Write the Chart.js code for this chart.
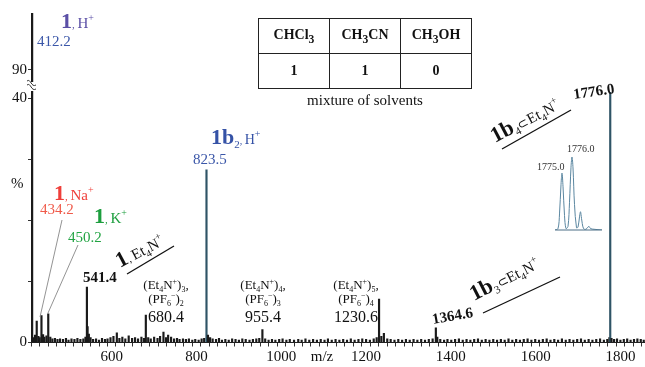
<!DOCTYPE html>
<html>
<head>
<meta charset="utf-8">
<script src="https://cdn.jsdelivr.net/npm/chart.js@4.4.0/dist/chart.umd.min.js"></script>
<style>
  body { margin: 0; background: #fff; }
  #wrap { position: relative; width: 645px; height: 367px; }
  #ms { position: absolute; left: 0; top: 0; }
  #inset { position: absolute; left: 555px; top: 150px; }
  #solv { position: absolute; left: 258px; top: 18px; border-collapse: collapse;
          font: bold 14px "Liberation Serif", "Times New Roman", serif; color: #111; }
  #solv td { border: 1.5px solid #222; width: 70px; height: 34px; text-align: center; padding: 0; }
  #cap { position: absolute; left: 258px; top: 92px; width: 214px; text-align: center;
         font: 15px "Liberation Serif", "Times New Roman", serif; color: #111; }
</style>
</head>
<body>
<div id="wrap">
  <canvas id="ms" width="645" height="367"></canvas>
  <canvas id="inset" width="47" height="81"></canvas>
  <table id="solv"></table>
  <div id="cap">mixture of solvents</div>
</div>
<script>
// labelled peaks (m/z, relative intensity %)
const peakMz  = [412.2, 423.0, 434.2, 450.2, 541.4, 543.0, 612.0, 680.4, 722.0, 733.0, 823.5, 955.4, 1230.6, 1242.0, 1364.6, 1776.0];
const peakInt = [100,   3.5,   4.4,   4.7,   9.1,   2.6,   1.6,   4.5,   1.7,   1.2,   28.3,  2.1,   7.1,    1.5,    2.4,    41.0];

// baseline noise
const noiseMz = [416, 419, 427, 430, 438, 441, 446, 455, 460, 466, 472, 478, 485, 492, 498, 505, 512, 519, 526, 533, 538, 546, 550,
  556, 563, 570, 577, 584, 590, 597, 604, 618, 625, 632, 640, 648, 655, 662, 670, 676, 686, 692, 700, 708, 714, 728, 740, 747,
  754, 760, 768, 775, 782, 790, 797, 805, 812, 818, 827, 832, 838, 846, 853, 860, 868, 876, 884, 892, 900, 908, 916, 925, 933,
  941, 948, 962, 970, 978, 986, 995, 1003, 1012, 1020, 1030, 1040, 1048, 1057, 1066, 1075, 1084, 1093, 1102, 1110, 1119, 1128,
  1137, 1146, 1155, 1164, 1173, 1182, 1191, 1200, 1209, 1218, 1225, 1236, 1250, 1258, 1267, 1276, 1285, 1294, 1303, 1312, 1321,
  1330, 1339, 1348, 1357, 1368, 1375, 1384, 1392, 1401, 1410, 1419, 1428, 1437, 1446, 1455, 1464, 1473, 1482, 1491, 1500, 1509,
  1518, 1527, 1536, 1545, 1554, 1563, 1572, 1581, 1590, 1599, 1608, 1617, 1626, 1635, 1644, 1653, 1662, 1671, 1680, 1689, 1698,
  1707, 1716, 1725, 1734, 1743, 1752, 1761, 1769, 1774, 1779, 1785, 1792, 1800, 1808, 1816, 1824, 1832, 1840, 1848, 1855];
const noiseInt = [0.8, 1.2, 1.0, 0.8, 1.3, 0.9, 1.1, 0.9, 0.6, 0.7, 0.5, 0.6, 0.5, 0.7, 0.4, 0.6, 0.5, 0.7, 0.5, 0.6, 0.9, 1.4, 0.8,
  0.5, 0.6, 0.4, 0.7, 0.5, 0.6, 0.8, 1.0, 0.7, 0.9, 0.6, 1.1, 0.7, 0.8, 0.6, 0.9, 0.7, 0.8, 0.6, 0.9, 0.7, 1.0, 0.8, 0.9, 0.6,
  0.7, 0.5, 0.6, 0.5, 0.6, 0.4, 0.5, 0.4, 0.6, 0.7, 1.2, 0.8, 0.6, 0.5, 0.7, 0.4, 0.5, 0.4, 0.6, 0.5, 0.4, 0.6, 0.5, 0.4, 0.5,
  0.6, 0.7, 0.6, 0.4, 0.5, 0.4, 0.5, 0.6, 0.4, 0.5, 0.4, 0.5, 0.4, 0.6, 0.4, 0.5, 0.4, 0.5, 0.4, 0.6, 0.4, 0.5,
  0.4, 0.5, 0.4, 0.6, 0.4, 0.5, 0.6, 0.5, 0.4, 0.6, 0.8, 1.0, 0.6, 0.5, 0.4, 0.5, 0.4, 0.5, 0.4, 0.5, 0.4,
  0.5, 0.4, 0.5, 0.6, 0.9, 0.5, 0.4, 0.5, 0.4, 0.5, 0.6, 0.4, 0.5, 0.4, 0.5, 0.6, 0.4, 0.5, 0.4, 0.5, 0.4,
  0.5, 0.4, 0.6, 0.4, 0.5, 0.4, 0.5, 0.6, 0.4, 0.5, 0.4, 0.5, 0.6, 0.4, 0.5, 0.4, 0.6, 0.4, 0.5, 0.4, 0.5,
  0.6, 0.4, 0.5, 0.4, 0.5, 0.6, 0.4, 0.5, 0.8, 0.7, 0.5, 0.6, 0.4, 0.5, 0.6, 0.4, 0.5, 0.6, 0.5, 0.4];

// axis
const xTickStep = 20;
const xLabelStep = 200;
const yTickVals = [0, 10, 20, 30, 40, 90];
const yTickLabels = ['0', '', '', '', '40', '90'];

// isotope pattern inset around 1776
const isoMz  = [1774.3, 1774.6, 1774.75, 1774.9, 1775.0, 1775.1, 1775.25, 1775.4, 1775.6, 1775.75, 1775.9, 1776.0, 1776.1,
                1776.25, 1776.45, 1776.6, 1776.75, 1776.85, 1776.95, 1777.15, 1777.4, 1777.6, 1777.7, 1777.85, 1778.2, 1779.0];
const isoInt = [0, 0.02, 0.22, 0.62, 0.78, 0.6, 0.2, 0.02, 0.05, 0.38, 0.86, 1.0, 0.85,
                0.35, 0.03, 0.04, 0.18, 0.25, 0.16, 0.02, 0.01, 0.04, 0.05, 0.02, 0.01, 0];

// solvent table
const solvents = ['CHCl<sub>3</sub>', 'CH<sub>3</sub>CN', 'CH<sub>3</sub>OH'];
const solventRatio = [1, 1, 0];

const SERIF = '"Liberation Serif", "Times New Roman", serif';

// broken y axis: 0-45 linear, 90-100 squeezed on top
function yMap(v) {
    return v < 90 ? v : 44.7 + (v - 90) * 0.93;
}

// build table
(function() {
    const t = document.getElementById('solv');
    t.innerHTML = '<tr>' + solvents.map(s => `<td>${s}</td>`).join('') + '</tr>' +
                  '<tr>' + solventRatio.map(r => `<td>${r}</td>`).join('') + '</tr>';
})();

/**
 * Draw a run of text pieces (bold, sub/superscripts) starting at x,y
 * parts: [text, size, bold, dy]
 */
function rich(ctx, x, y, parts, color, angle, align) {
    ctx.save();
    ctx.translate(x, y);
    ctx.rotate((angle || 0) * Math.PI / 180);
    ctx.fillStyle = color;
    ctx.textBaseline = 'alphabetic';
    ctx.textAlign = 'left';
    let total = 0;
    const widths = parts.map(p => {
        ctx.font = (p[2] ? 'bold ' : '') + p[1] + 'px ' + SERIF;
        const w = ctx.measureText(p[0]).width;
        total += w;
        return w;
    });
    let cx = align === 'center' ? -total / 2 : 0;
    parts.forEach((p, i) => {
        ctx.font = (p[2] ? 'bold ' : '') + p[1] + 'px ' + SERIF;
        ctx.fillText(p[0], cx, p[3] || 0);
        cx += widths[i];
    });
    ctx.restore();
}

function line(ctx, x1, y1, x2, y2, color, w) {
    ctx.save();
    ctx.strokeStyle = color;
    ctx.lineWidth = w;
    ctx.beginPath();
    ctx.moveTo(x1, y1);
    ctx.lineTo(x2, y2);
    ctx.stroke();
    ctx.restore();
}

// "1bn⊂Et4N+" style label pieces
function hostGuest(n) {
    return [['1b', 22, 1, 0], [n, 11, 0, 4], ['\u2282', 13, 0, 0], ['Et', 15, 0, 0], ['4', 10, 0, 4], ['N', 15, 0, 0], ['+', 10, 0, -7]];
}

const notesPlugin = {
    id: 'notes',
    afterDraw(chart) {
        const ctx = chart.ctx;
        const K = '#111';

        // axis break
        ctx.save();
        ctx.fillStyle = '#fff';
        ctx.fillRect(29, 82, 5, 9);
        ctx.strokeStyle = '#333';
        ctx.lineWidth = 1;
        [0, 4].forEach(d => {
            ctx.beginPath();
            ctx.moveTo(27, 81 + d);
            ctx.bezierCurveTo(31, 78 + d, 31, 88 + d, 36, 85 + d);
            ctx.stroke();
        });
        ctx.restore();

        // y label and x title
        rich(ctx, 11, 188, [['%', 15, 0, 0]], K);
        rich(ctx, 322, 361, [['m/z', 15, 0, 0]], K, 0, 'center');

        // 1, H+
        rich(ctx, 61, 28, [['1', 22, 1, 0], [', ', 11, 0, 0], ['H', 15, 0, 0], ['+', 10, 0, -7]], '#5b4fa6');
        rich(ctx, 37, 46, [['412.2', 15, 0, 0]], '#3a56a8');

        // 1, Na+
        rich(ctx, 54, 200, [['1', 22, 1, 0], [', ', 11, 0, 0], ['Na', 15, 0, 0], ['+', 10, 0, -7]], '#ef3f3a');
        rich(ctx, 40, 214, [['434.2', 15, 0, 0]], '#f05a4a');
        // 1, K+
        rich(ctx, 94, 223, [['1', 22, 1, 0], [', ', 11, 0, 0], ['K', 15, 0, 0], ['+', 10, 0, -7]], '#1d9e3e');
        rich(ctx, 68, 242, [['450.2', 15, 0, 0]], '#22a443');
        line(ctx, 40, 317, 62, 220, '#777', 0.8);
        line(ctx, 48, 313, 78, 245, '#777', 0.8);

        // 541.4 / 1, Et4N+
        rich(ctx, 83, 282, [['541.4', 15, 1, 0]], K);
        rich(ctx, 120, 268, [['1', 22, 1, 0], [', ', 11, 0, 0], ['Et', 15, 0, 0], ['4', 10, 0, 4], ['N', 15, 0, 0], ['+', 10, 0, -7]], K, -28);
        line(ctx, 127, 274, 174, 246, K, 1.3);

        // (Et4N+)n,(PF6-)n-1 clusters
        const clusters = [[166, '3', '2', '680.4'], [263, '4', '3', '955.4'], [356, '5', '4', '1230.6']];
        clusters.forEach(c => {
            rich(ctx, c[0], 289, [['(Et', 13, 0, 0], ['4', 8, 0, 3], ['N', 13, 0, 0], ['+', 8, 0, -5], [')', 13, 0, 0], [c[1], 8, 0, 3], [',', 13, 0, 0]], K, 0, 'center');
            rich(ctx, c[0], 303, [['(PF', 13, 0, 0], ['6', 8, 0, 3], ['\u2212', 8, 0, -5], [')', 13, 0, 0], [c[2], 8, 0, 3]], K, 0, 'center');
            rich(ctx, c[0], 322, [[c[3], 16, 0, 0]], K, 0, 'center');
        });

        // 1b2, H+
        rich(ctx, 211, 144, [['1b', 22, 1, 0], ['2', 11, 0, 4], [', ', 10, 0, 0], ['H', 14, 0, 0], ['+', 10, 0, -7]], '#3552a6');
        rich(ctx, 193, 164, [['823.5', 15, 0, 0]], '#3a56a8');

        // 1364.6 and 1b3 label
        rich(ctx, 433, 324, [['1364.6', 15, 1, 0]], K, -10);
        rich(ctx, 474, 301, hostGuest('3'), K, -27);
        line(ctx, 483, 313, 560, 277, K, 1.3);

        // 1776.0 and 1b4 label
        rich(ctx, 574, 99, [['1776.0', 15, 1, 0]], K, -8);
        rich(ctx, 495, 143, hostGuest('4'), K, -28);
        line(ctx, 502, 149, 571, 110, K, 1.3);

        // inset labels
        rich(ctx, 537, 170, [['1775.0', 10, 0, 0]], '#333');
        rich(ctx, 567, 152, [['1776.0', 10, 0, 0]], '#333');
    }
};

// combine peaks and noise
const spectrum = peakMz.map((m, i) => ({ x: m, y: yMap(peakInt[i]) }))
    .concat(noiseMz.map((m, i) => ({ x: m, y: noiseInt[i] })))
    .sort((a, b) => a.x - b.x);

new Chart(document.getElementById('ms').getContext('2d'), {
    type: 'bar',
    data: {
        datasets: [{
            data: spectrum,
            backgroundColor: spectrum.map(p => (p.x === 823.5 || p.x === 1776.0) ? '#2f5466' : '#1a1a1a'),
            barThickness: 1.5,
            borderWidth: 0
        }]
    },
    options: {
        responsive: false,
        animation: false,
        layout: { padding: { top: 13, right: 0, left: 0, bottom: 0 } },
        plugins: { legend: { display: false }, tooltip: { enabled: false } },
        scales: {
            x: {
                type: 'linear',
                offset: false,
                min: 409.5,
                max: 1858,
                afterBuildTicks(scale) {
                    const t = [];
                    for (let v = 420; v <= 1858; v += xTickStep) t.push({ value: v });
                    scale.ticks = t;
                },
                afterFit(scale) { scale.height = 24.5; },
                ticks: {
                    autoSkip: false,
                    maxRotation: 0,
                    padding: 2,
                    color: '#111',
                    font: { family: SERIF, size: 15 },
                    callback: v => (v % xLabelStep === 0 ? String(v) : '')
                },
                grid: { drawOnChartArea: false, drawTicks: true, tickLength: 4, color: '#333' },
                border: { color: '#222', width: 1 }
            },
            y: {
                min: 0,
                max: 54,
                afterBuildTicks(scale) {
                    scale.ticks = yTickVals.map(v => ({ value: yMap(v) }));
                },
                afterFit(scale) { scale.width = 31; },
                ticks: {
                    autoSkip: false,
                    padding: 1,
                    color: '#111',
                    font: { family: SERIF, size: 15 },
                    callback: (v, i) => yTickLabels[i]
                },
                grid: { drawOnChartArea: false, drawTicks: true, tickLength: 3, color: '#333' },
                border: { color: '#222', width: 1 }
            }
        }
    },
    plugins: [notesPlugin]
});

// inset: isotope pattern of 1b4⊂Et4N+
const baselinePlugin = {
    id: 'baseline',
    afterDatasetsDraw(chart) {
        const a = chart.chartArea;
        line(chart.ctx, a.left, a.bottom, a.right, a.bottom, '#4d6f86', 1);
    }
};
new Chart(document.getElementById('inset').getContext('2d'), {
    type: 'line',
    data: {
        datasets: [{
            data: isoMz.map((m, i) => ({ x: m, y: isoInt[i] })),
            borderColor: '#5a86a0',
            borderWidth: 1,
            pointRadius: 0,
            tension: 0.35,
            fill: false
        }]
    },
    options: {
        responsive: false,
        animation: false,
        layout: { padding: { top: 7, bottom: 1, left: 0, right: 0 } },
        plugins: { legend: { display: false }, tooltip: { enabled: false } },
        scales: {
            x: { type: 'linear', min: 1774.3, max: 1779.0, display: false },
            y: { min: 0, max: 1, display: false }
        }
    },
    plugins: [baselinePlugin]
});
</script>
</body>
</html>
